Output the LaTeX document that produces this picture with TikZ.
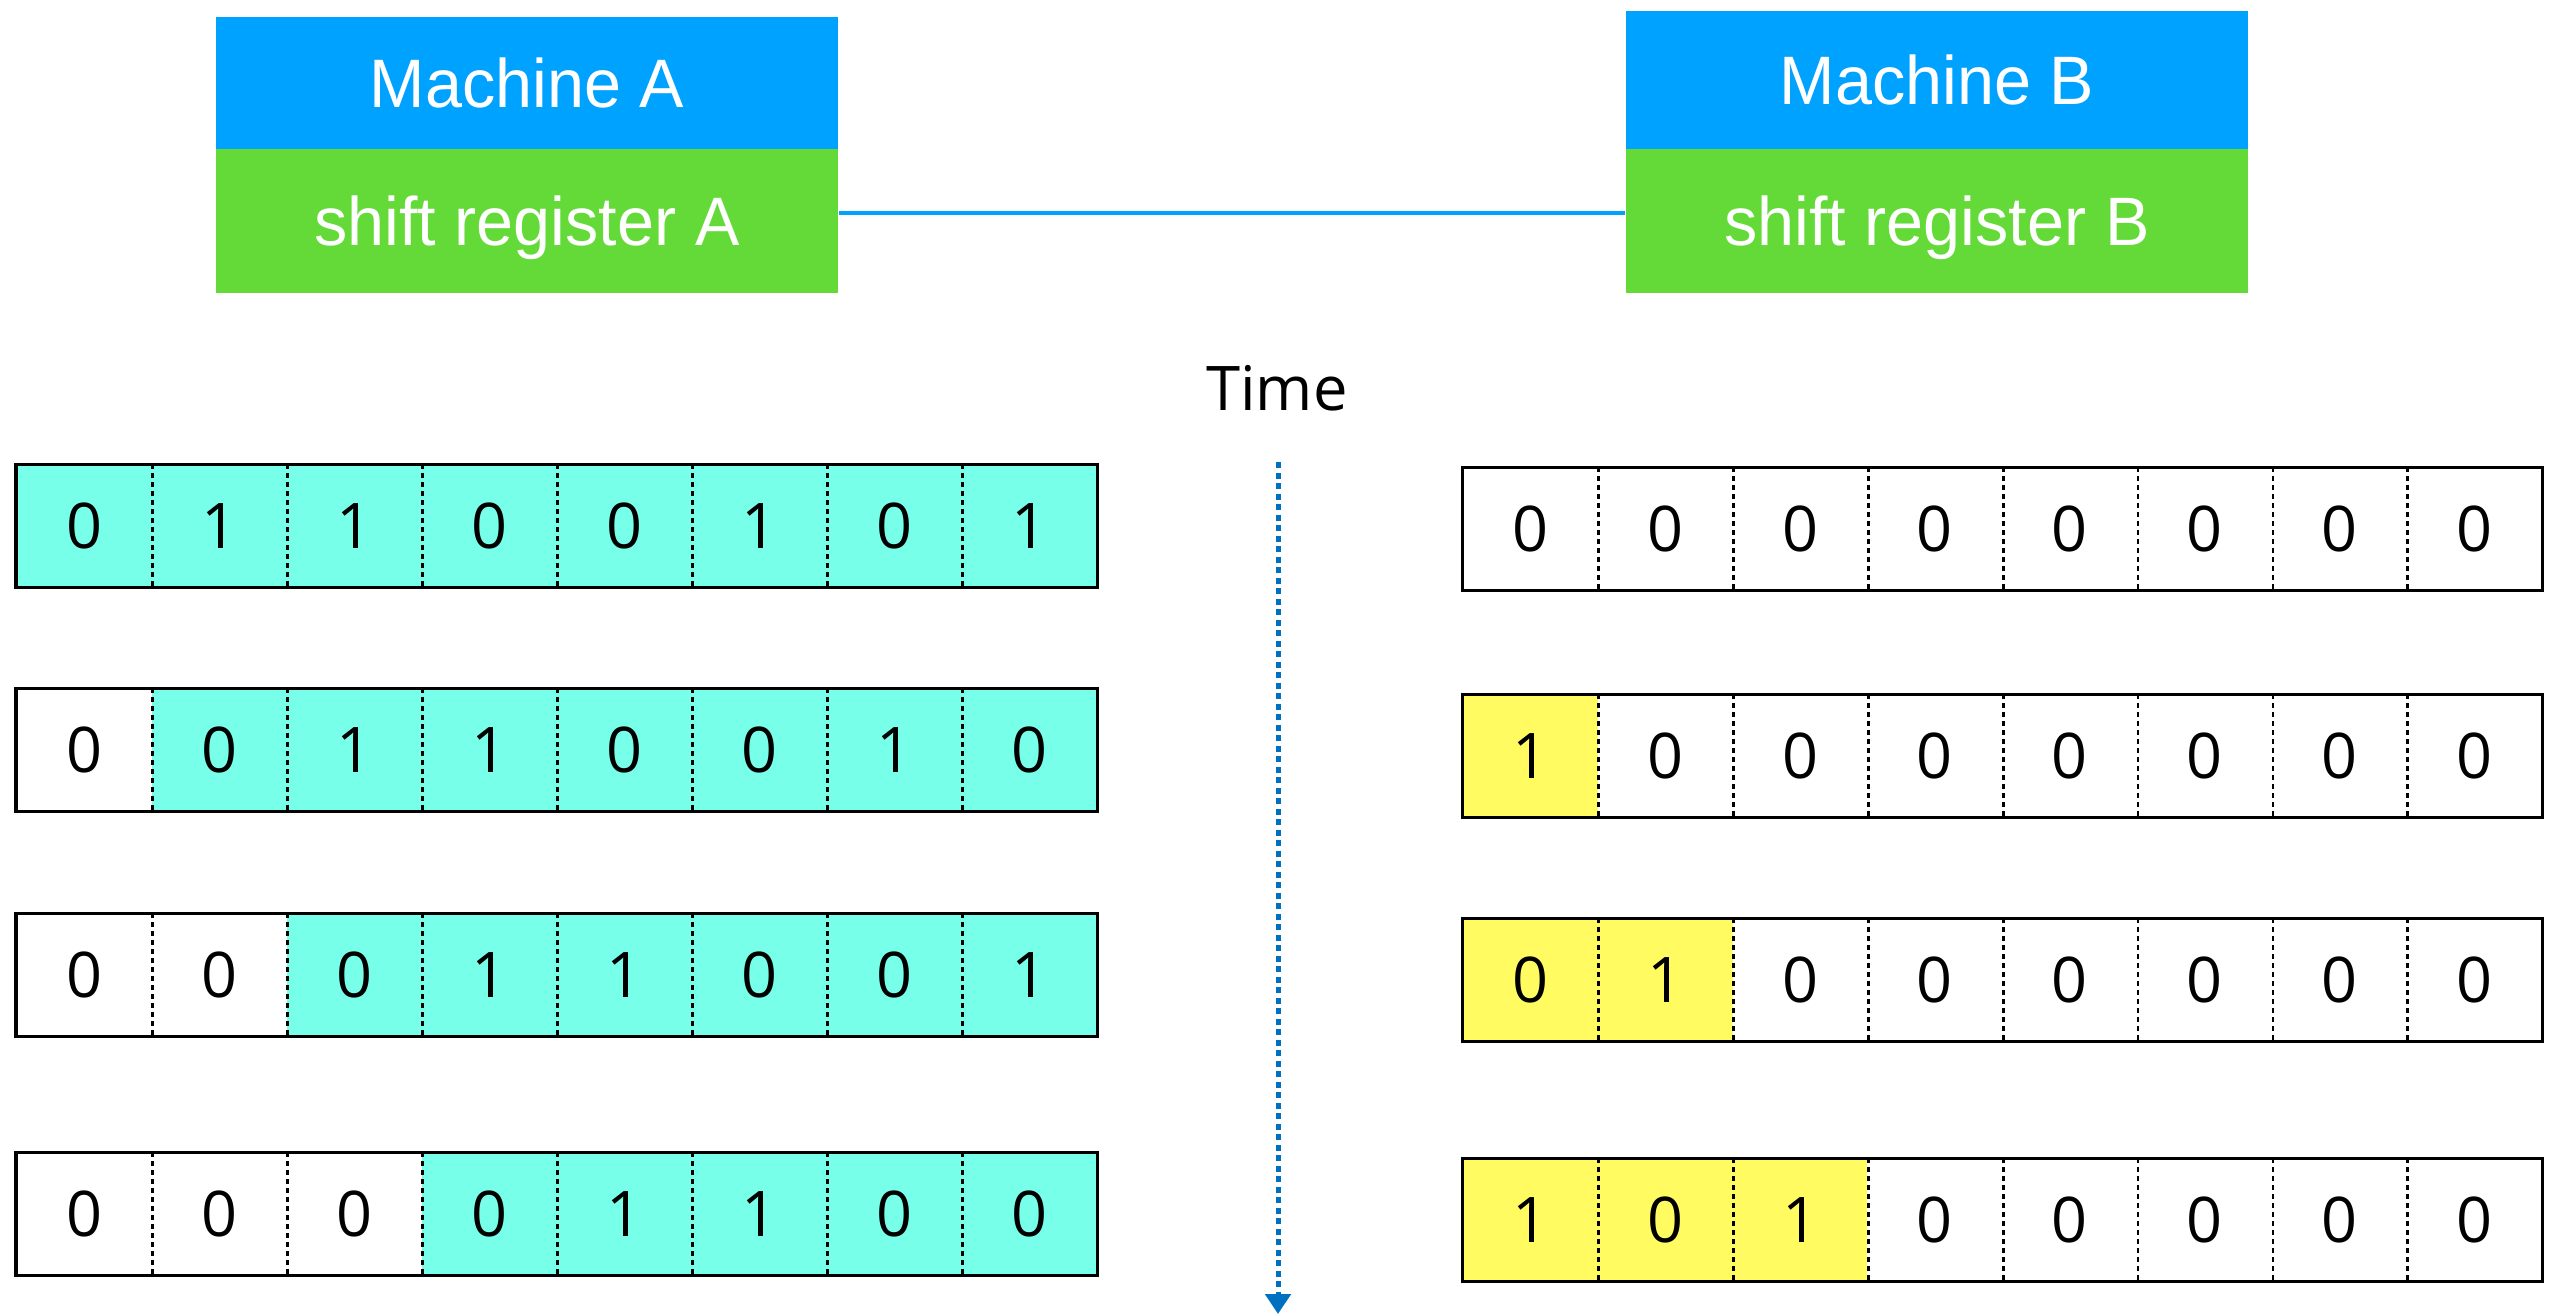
\documentclass[tikz,border=0pt]{standalone}
\usepackage{fontspec}
\setmainfont{Liberation Sans}
\newfontfamily\condfont[FakeStretch=0.97]{Liberation Sans}
\newfontfamily\opensans{Open Sans}
\usetikzlibrary{arrows.meta}
\definecolor{machblue}{RGB}{0,162,255}
\definecolor{machgreen}{RGB}{99,218,56}
\definecolor{regcyan}{RGB}{119,255,234}
\definecolor{regyellow}{RGB}{255,251,96}
\definecolor{timeblue}{RGB}{0,112,192}
\begin{document}
\begin{tikzpicture}[x=0.01cm,y=-0.01cm,
  machbox/.style={fill=machblue,text=white,minimum width=6.22cm,inner sep=0pt,anchor=north west,text depth=0pt,font=\condfont\fontsize{19.5}{22}\selectfont},
  regbox/.style={fill=machgreen,text=white,minimum width=6.22cm,minimum height=1.44cm,inner sep=0pt,anchor=north west,text depth=0pt,font=\condfont\fontsize{19.5}{22}\selectfont},
  cell/.style={minimum width=1.349cm,minimum height=1.22cm,inner sep=0pt,anchor=north west,font=\opensans\fontsize{17.9}{20}\selectfont},
  regline/.style={line width=0.03cm,black},
  divline/.style={line width=0.028cm,black,dash pattern=on 0.05cm off 0.04cm},
  link/.style={line width=0.04cm,machblue},
  timeline/.style={line width=0.05cm,timeblue,dash pattern=on 0.06cm off 0.045cm,-{Triangle[width=0.25cm,length=0.2cm]}}
]
\useasboundingbox (0,0) rectangle (2558,1315);

% machines
\node[machbox,minimum height=1.32cm] (mA) at (215,16) {Machine A};
\node[regbox] (sA) at (215,148) {shift register A};
\node[machbox,minimum height=1.38cm] (mB) at (1625,10) {Machine B};
\node[regbox] (sB) at (1625,148) {shift register B};
\draw[link] ([yshift=0.08cm]sA.east) -- ([yshift=0.08cm]sB.west);

% time
\node[anchor=base,font=\opensans\fontsize{17.5}{20}\selectfont] (time) at (1277,410) {Time};
\coordinate (tstart) at (1278,462);
\coordinate (tend) at (1278,1314);
\draw[timeline] (tstart) -- (tend);

% left registers
\foreach \r/\y/\bits in {1/464/{0,1,1,0,0,1,0,1},2/688/{0,0,1,1,0,0,1,0},3/913/{0,0,0,1,1,0,0,1},4/1152/{0,0,0,0,1,1,0,0}}{
  \foreach \b [count=\i] in \bits {
    \ifnum\i<\r \def\fc{white}\else\def\fc{regcyan}\fi
    \node[cell,fill=\fc] (A\r-\i) at ({16+(\i-1)*135},\y) {\b};
  }
  \draw[regline] (A\r-1.north west) rectangle (A\r-8.south east);
  \foreach \k in {1,...,7} \draw[divline] (A\r-\k.north east) -- (A\r-\k.south east);
}

% right registers
\foreach \r/\y/\bits in {1/467/{0,0,0,0,0,0,0,0},2/694/{1,0,0,0,0,0,0,0},3/918/{0,1,0,0,0,0,0,0},4/1158/{1,0,1,0,0,0,0,0}}{
  \foreach \b [count=\i] in \bits {
    \ifnum\i<\r \def\fc{regyellow}\else\def\fc{white}\fi
    \node[cell,fill=\fc] (B\r-\i) at ({1462+(\i-1)*134.9},\y) {\b};
  }
  \draw[regline] (B\r-1.north west) rectangle (B\r-8.south east);
  \foreach \k in {1,...,7} \draw[divline] (B\r-\k.north east) -- (B\r-\k.south east);
}
\end{tikzpicture}
\end{document}
